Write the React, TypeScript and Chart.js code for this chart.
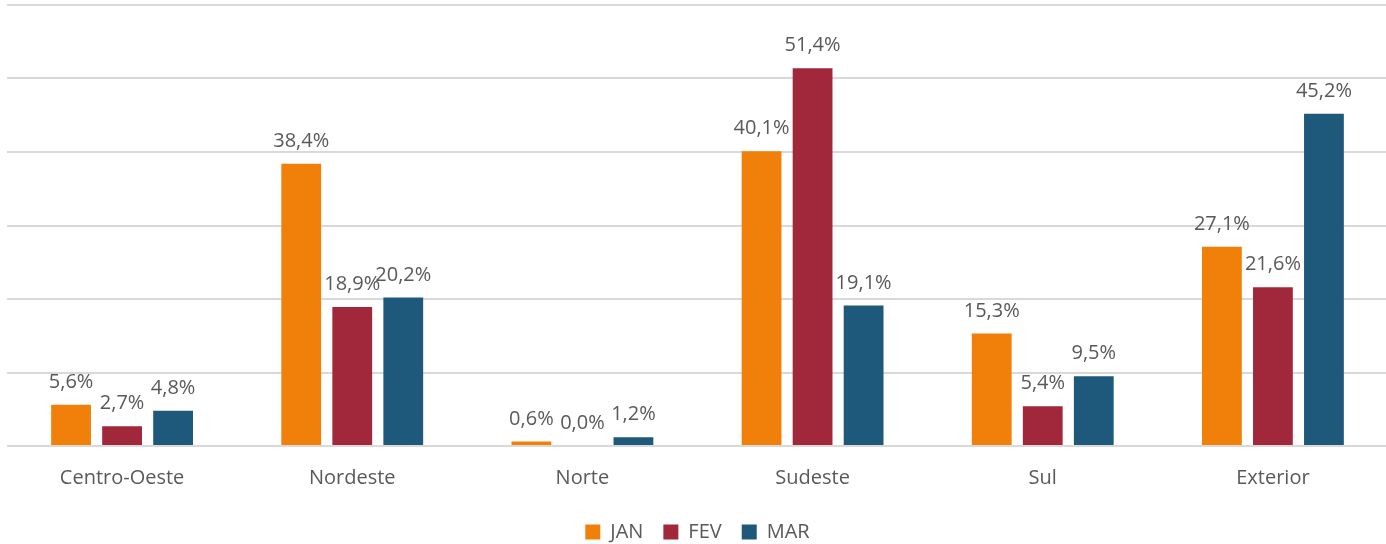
import React, { useEffect, useRef } from "react";
import { Chart, registerables } from "chart.js";

Chart.register(...registerables);

const categories = ["Centro-Oeste", "Nordeste", "Norte", "Sudeste", "Sul", "Exterior"];
const janValues = [5.6, 38.4, 0.6, 40.1, 15.3, 27.1];
const fevValues = [2.7, 18.9, 0.0, 51.4, 5.4, 21.6];
const marValues = [4.8, 20.2, 1.2, 19.1, 9.5, 45.2];
const seriesNames = ["JAN", "FEV", "MAR"];
const seriesColors = ["#F0800A", "#A1283A", "#1E587A"];

const FONT = "'Open Sans', sans-serif";
const TEXT = "#595959";

const labelPlugin = {
  id: "valueLabels",
  afterDatasetsDraw(chart: any) {
    const ctx = chart.ctx;
    ctx.save();
    ctx.font = `20px ${FONT}`;
    ctx.fillStyle = TEXT;
    ctx.textAlign = "center";
    ctx.textBaseline = "alphabetic";
    chart.data.datasets.forEach((ds: any, i: number) => {
      const meta = chart.getDatasetMeta(i);
      meta.data.forEach((bar: any, j: number) => {
        const v = ds.data[j] as number;
        const txt = v.toFixed(1).replace(".", ",") + "%";
        ctx.fillText(txt, bar.x, bar.y - 17);
      });
    });
    ctx.restore();
  },
};

export default function App() {
  const ref = useRef<HTMLCanvasElement | null>(null);
  useEffect(() => {
    if (!ref.current) return;
    const chart = new Chart(ref.current, {
      type: "bar",
      data: {
        labels: categories,
        datasets: [janValues, fevValues, marValues].map((d, i) => ({
          label: seriesNames[i],
          data: d,
          backgroundColor: seriesColors[i],
          categoryPercentage: 0.665,
          barPercentage: 0.78,
        })),
      },
      options: {
        animation: false,
        responsive: false,
        maintainAspectRatio: false,
        layout: { padding: { left: 7, right: 0, top: 5, bottom: -8 } },
        plugins: {
          legend: {
            position: "bottom",
            labels: {
              boxWidth: 15,
              boxHeight: 15,
              padding: 20,
              color: TEXT,
              font: { family: FONT, size: 20 },
            },
          },
          tooltip: { enabled: false },
        },
        scales: {
          x: {
            grid: { display: false },
            border: { display: false },
            ticks: { color: TEXT, font: { family: FONT, size: 20 }, padding: 12 },
          },
          y: {
            min: 0,
            max: 60,
            ticks: { display: false, stepSize: 10 },
            grid: { color: "#D9D9D9", lineWidth: 2, drawTicks: false },
            border: { display: false },
          },
        },
      },
      plugins: [labelPlugin],
    });
    return () => chart.destroy();
  }, []);
  return (
    <div style={{ position: "absolute", left: 0, top: 0, width: 1386, height: 544, overflow: "hidden" }}>
      <canvas ref={ref} width={1388} height={544} />
    </div>
  );
}
